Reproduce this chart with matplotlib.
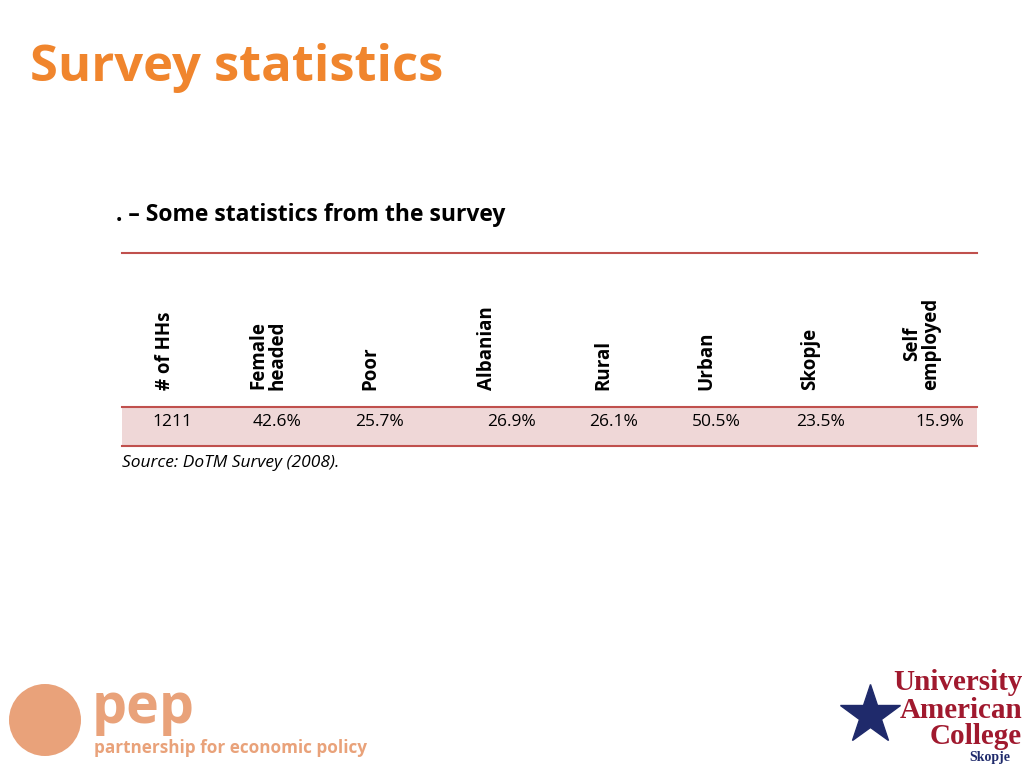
import matplotlib
matplotlib.use("Agg")
import matplotlib.pyplot as plt
from matplotlib.patches import Rectangle, Circle

headers = ["# of HHs", "Female\nheaded", "Poor", "Albanian", "Rural", "Urban", "Skopje", "Self\nemployed"]
values = ["1211", "42.6%", "25.7%", "26.9%", "26.1%", "50.5%", "23.5%", "15.9%"]
header_x = [165, 268, 370, 487, 603, 706, 810, 922]
value_x = [172, 277, 380, 512, 614, 716, 821, 940]

orange = "#F0852D"
red = "#C0504D"

fig = plt.figure(figsize=(10.24, 7.68), dpi=100)
ax = fig.add_axes([0, 0, 1, 1])
ax.set_xlim(0, 1024)
ax.set_ylim(768, 0)
ax.axis("off")

ax.text(30, 68, "Survey statistics", color=orange, fontsize=36.5, fontweight="bold",
        family="Open Sans", va="center")
ax.text(116, 215, ". – Some statistics from the survey", fontsize=16.5, fontweight="bold",
        family="Open Sans", va="center")

ax.plot([122, 977], [253, 253], color=red, lw=1.5)
ax.add_patch(Rectangle((122, 407), 855, 39, facecolor="#EFD7D7", edgecolor="none"))
ax.plot([122, 977], [407, 407], color=red, lw=1.5)
ax.plot([122, 977], [446, 446], color=red, lw=1.5)

for x, h in zip(header_x, headers):
    ax.text(x, 390, h, rotation=90, fontsize=13.5, fontweight="bold", family="Open Sans",
            ha="center", va="bottom", linespacing=0.95)
for x, v in zip(value_x, values):
    ax.text(x, 422, v, fontsize=12.5, family="Open Sans", ha="center", va="center")

ax.text(122, 463, "Source: DoTM Survey (2008).", fontsize=12.5, style="italic",
        family="Open Sans", va="center")

# pep logo
ax.add_patch(Circle((45, 720), 36, facecolor="#E9A27A", edgecolor="none"))
ax.text(92, 708, "pep", color="#E9A27A", fontsize=40, fontweight="bold", family="Open Sans", va="center")
ax.text(94, 748, "partnership for economic policy", color="#E9A27A", fontsize=12.3,
        fontweight="bold", family="Open Sans", va="center")

# UAC logo
ax.text(1022, 683, "University", color="#A0192E", fontsize=21, fontweight="bold",
        family="Liberation Serif", ha="right", va="center")
ax.text(1022, 710, "American", color="#A0192E", fontsize=21, fontweight="bold",
        family="Liberation Serif", ha="right", va="center")
ax.text(1022, 737, "College", color="#A0192E", fontsize=21, fontweight="bold",
        family="Liberation Serif", ha="right", va="center")
ax.text(1010, 758, "Skopje", color="#1F2A6B", fontsize=10, fontweight="bold",
        family="Liberation Serif", ha="right", va="center")
ax.plot([870], [715], marker="*", markersize=45, color="#1F2A6B")

fig.savefig("out.png", dpi=100)
